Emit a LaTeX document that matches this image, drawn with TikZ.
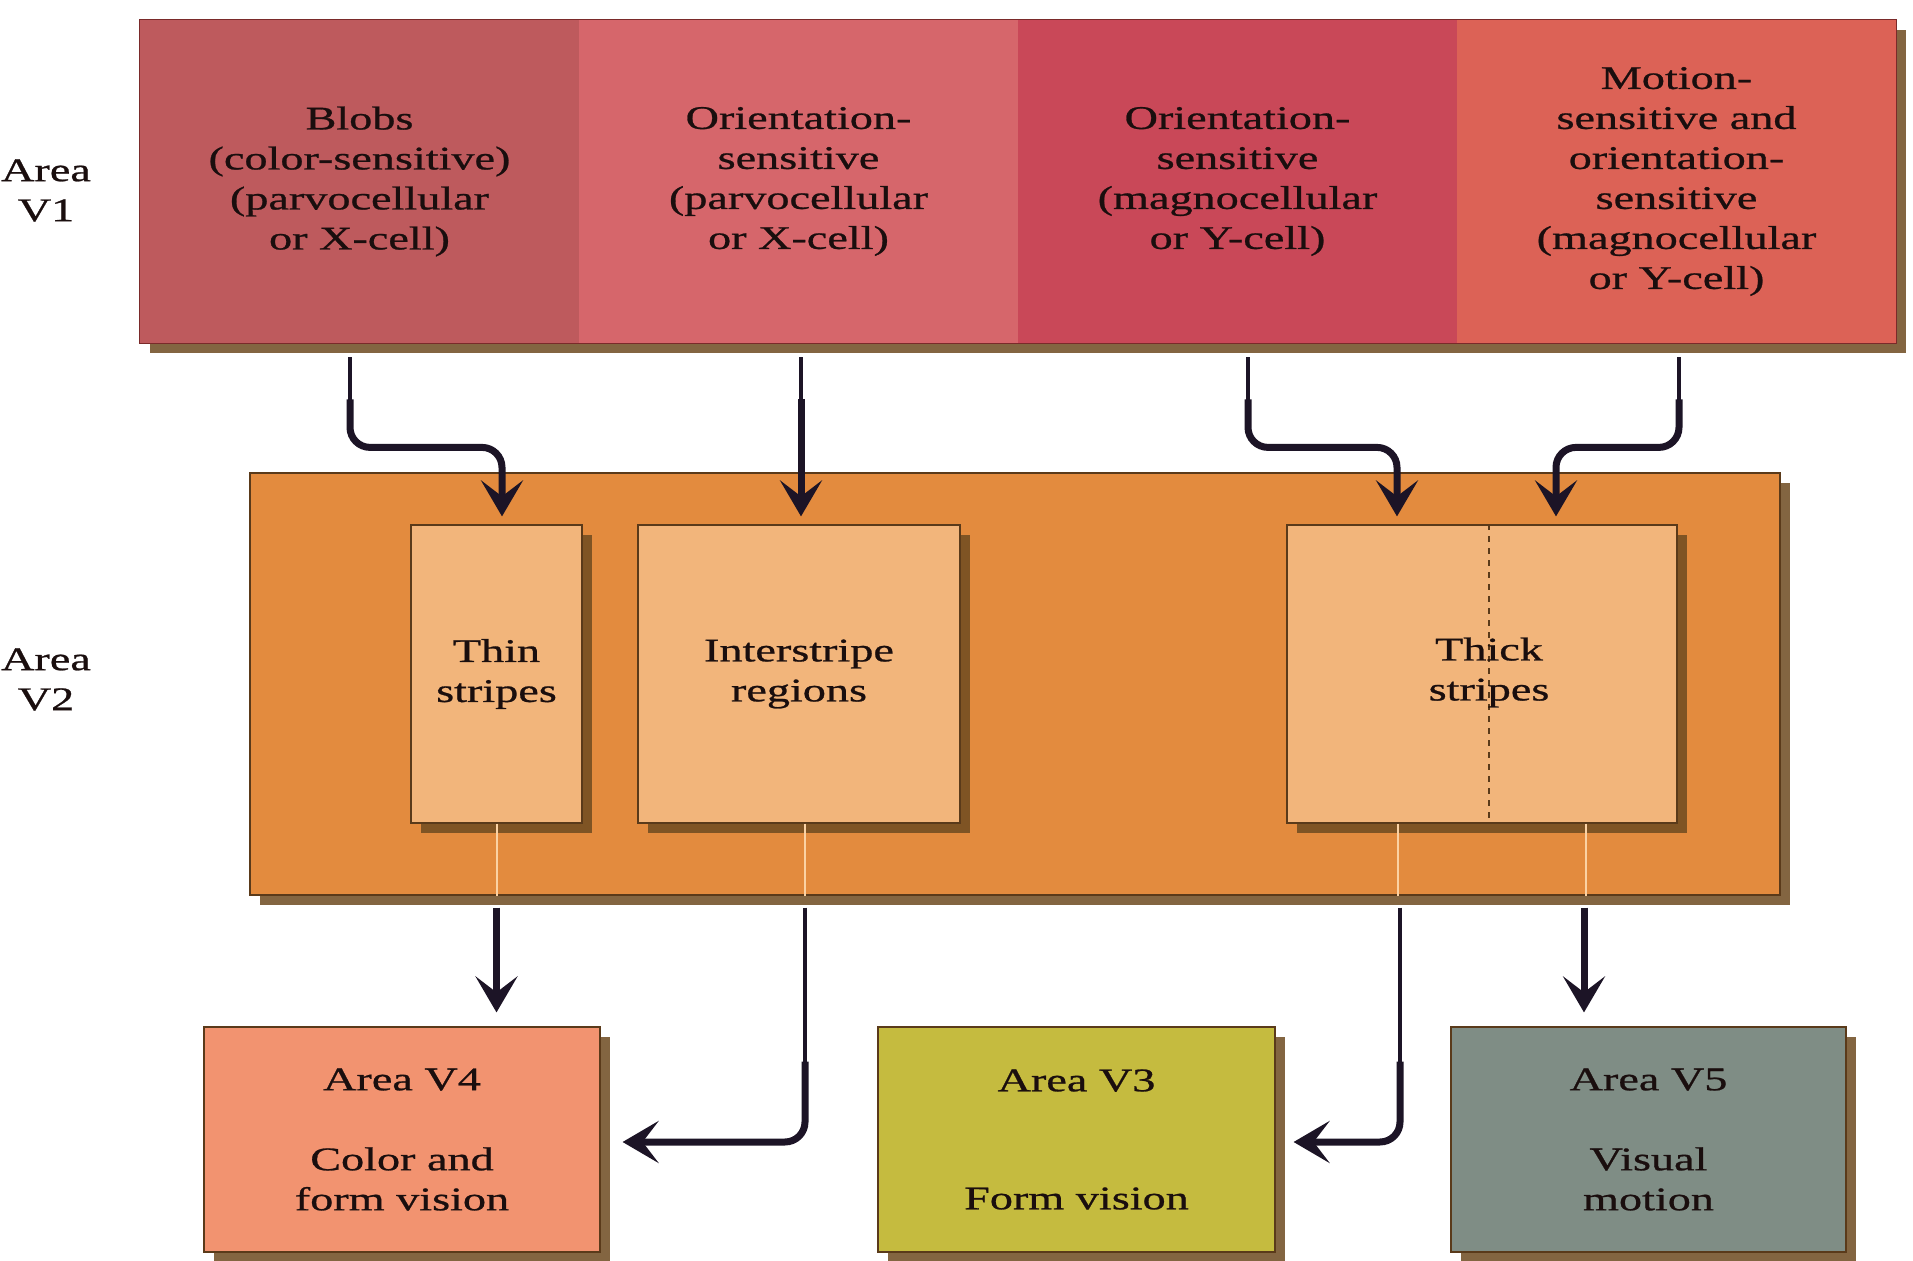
\documentclass[tikz,border=0pt]{standalone}
\usepackage{fontspec}
\setmainfont{Liberation Serif}[FakeStretch=1.4,FakeBold=0.8]
\usetikzlibrary{arrows.meta,shadows,calc}
\definecolor{vonea}{HTML}{BE5A5D}
\definecolor{voneb}{HTML}{D6666B}
\definecolor{vonec}{HTML}{C94858}
\definecolor{voned}{HTML}{DC6256}
\definecolor{vtwoc}{HTML}{E38B3E}
\definecolor{innerc}{HTML}{F2B57B}
\definecolor{vfourc}{HTML}{F29370}
\definecolor{vthreec}{HTML}{C5BB3F}
\definecolor{vfivec}{HTML}{7F8D85}
\definecolor{arrc}{HTML}{1C1426}
\definecolor{shadc}{HTML}{6E4B20}
\definecolor{edgec}{HTML}{5A3A1A}
\definecolor{voneedge}{HTML}{7A2A2A}
\definecolor{guidec}{HTML}{FBD2A4}
\definecolor{txtc}{HTML}{1A0E0E}
\begin{document}
\begin{tikzpicture}[x=0.5pt,y=-0.5pt,
  lbl/.style={font=\fontsize{16.5pt}{20pt}\selectfont, text=txtc, align=center, inner sep=0pt},
  shad/.style={drop shadow={shadow xshift=5pt, shadow yshift=-5pt, fill=shadc, opacity=0.85}},
  box/.style={lbl, rectangle, draw=edgec, line width=0.6pt, shad},
  vonecell/.style={lbl, rectangle, minimum width=219.5pt, minimum height=161.5pt, shad},
  bottombox/.style={box, minimum height=112.5pt},
  arr/.style={draw=arrc, line width=3.5pt, rounded corners=10pt, -{Stealth[length=18pt,width=21pt,inset=8pt]}},
  stem/.style={draw=arrc, line width=2.2pt},
  guide/.style={draw=guidec, line width=1pt}]
\fill[white] (0,0) rectangle (1913,1261);
\useasboundingbox (0,0) rectangle (1913,1261);

% Area labels
\node[lbl] (lblone) at (46,190.5) {Area\\V1};
\node[lbl] (lbltwo) at (46,679.5) {Area\\V2};

% Area V1
\node[vonecell, fill=vonea] (blobs) at (359.5,181.5) {Blobs\\(color-sensitive)\\(parvocellular\\or X-cell)};
\node[vonecell, fill=voneb] (oriP) at (798.5,181.5) {Orientation-\\sensitive\\(parvocellular\\or X-cell)};
\node[vonecell, fill=vonec] (oriM) at (1237.5,181.5) {Orientation-\\sensitive\\(magnocellular\\or Y-cell)};
\node[vonecell, fill=voned] (motion) at (1676.5,181.5) {Motion-\\sensitive and\\orientation-\\sensitive\\(magnocellular\\or Y-cell)};
\draw[draw=voneedge, line width=0.8pt] (blobs.north west) rectangle (motion.south east);

% Area V2
\node[box, fill=vtwoc, minimum width=765pt, minimum height=211pt] (areatwo) at (1015,684) {};
\node[box, fill=innerc, minimum width=85.5pt, minimum height=149pt] (thin) at (496.5,674) {Thin\\stripes};
\node[box, fill=innerc, minimum width=161pt, minimum height=149pt] (inter) at (799,674) {Interstripe\\regions};
\node[box, fill=innerc, minimum width=195pt, minimum height=149pt] (thick) at (1482,674) {};
\draw[dashed, draw=edgec, line width=1pt] ([xshift=3.5pt]thick.north) -- ([xshift=3.5pt]thick.south);
\node[lbl] (thicklbl) at (1489,672.5) {Thick\\stripes};

% bottom areas
\node[bottombox, fill=vfourc, minimum width=198pt] (vfour) at (402,1139.5) {Area V4\\[20pt]Color and\\form vision};
\node[bottombox, fill=vthreec, minimum width=198.5pt] (vthree) at (1076.5,1139.5) {Area V3\\[39pt]Form vision};
\node[bottombox, fill=vfivec, minimum width=197.5pt] (vfive) at (1648.5,1139.5) {Area V5\\[20pt]Visual\\motion};

% V1 -> V2 connectors
\draw[stem] ($(blobs.south)+(-9.5,14)$) -- ++(0,60);
\draw[arr] ($(blobs.south)+(-9.5,56)$) -- ++(0,48) -| ($(thin.north)+(5.5,-8)$);
\draw[stem] ($(oriP.south)+(2.5,14)$) -- ++(0,60);
\draw[arr] ($(oriP.south)+(2.5,56)$) -- ($(inter.north)+(2,-8)$);
\draw[stem] ($(oriM.south)+(10.5,14)$) -- ++(0,60);
\draw[arr] ($(oriM.south)+(10.5,56)$) -- ++(0,48) -| ($(thick.north)+(-85,-8)$);
\draw[stem] ($(motion.south)+(2.5,14)$) -- ++(0,60);
\draw[arr] ($(motion.south)+(2.5,56)$) -- ++(0,48) -| ($(thick.north)+(74,-8)$);

% faint guide lines inside V2
\draw[guide] (thin.south) -- (thin.south |- areatwo.south);
\draw[guide] ($(inter.south)+(6,0)$) -- ($(inter.south |- areatwo.south)+(6,0)$);
\draw[guide] ($(thick.south)+(-84,0)$) -- ($(thick.south |- areatwo.south)+(-84,0)$);
\draw[guide] ($(thick.south)+(104,0)$) -- ($(thick.south |- areatwo.south)+(104,0)$);

% V2 -> bottom connectors
\draw[arr] ($(thin.south |- areatwo.south)+(0,12)$) -- ($(thin.south |- vfour.north)+(0,-14)$);
\draw[stem] ($(inter.south |- areatwo.south)+(6,12)$) -- ++(0,180);
\draw[arr] ($(inter.south |- areatwo.south)+(6,166)$) |- ($(vfour.east)+(22,2.5)$);
\draw[stem] ($(thick.south |- areatwo.south)+(-82,12)$) -- ++(0,180);
\draw[arr] ($(thick.south |- areatwo.south)+(-82,166)$) |- ($(vthree.east)+(18,2.5)$);
\draw[arr] ($(thick.south |- areatwo.south)+(102,12)$) -- ($(thick.south |- vfive.north)+(102,-14)$);
\end{tikzpicture}
\end{document}
